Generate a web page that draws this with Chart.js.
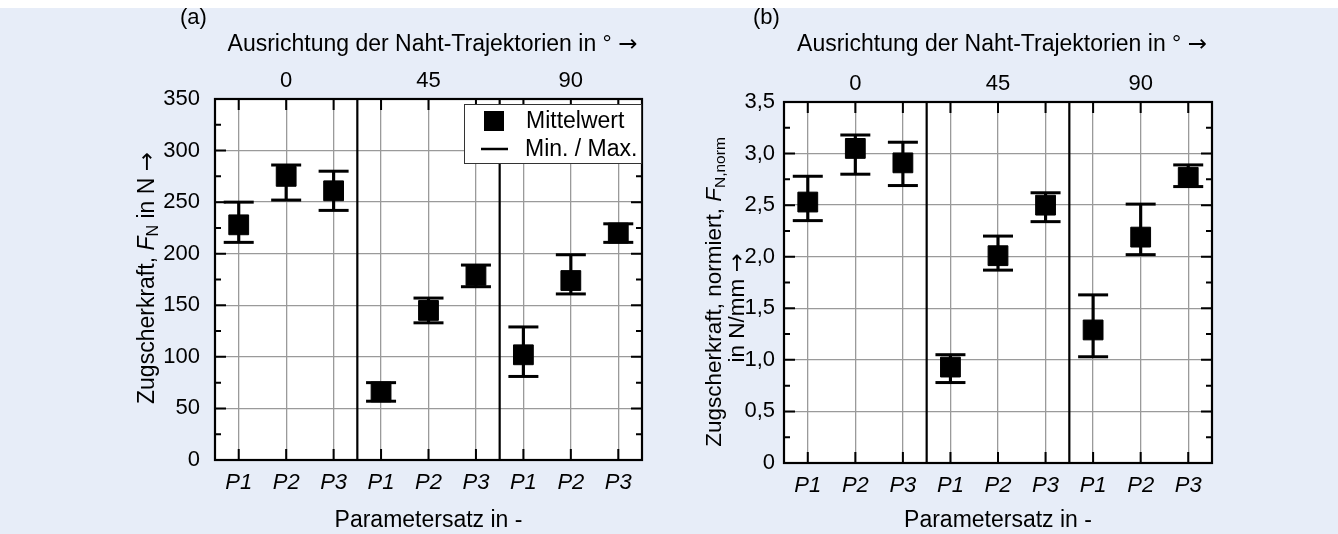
<!DOCTYPE html>
<html>
<head>
<meta charset="utf-8">
<script src="https://cdn.jsdelivr.net/npm/chart.js@4.4.0/dist/chart.umd.min.js"></script>
<style>
  body { margin: 0; background: #fff; }
  #wrap { position: absolute; left: 0; top: 8px; width: 1338px; height: 526px; background: #e7edf8; }
  canvas { position: absolute; top: 0; }
  #chartA { left: 0; }
  #chartB { left: 669px; }
</style>
</head>
<body>
<div id="wrap">
  <canvas id="chartA" width="669" height="526"></canvas>
  <canvas id="chartB" width="669" height="526"></canvas>
</div>
<script>
// Data
const categories = ['P1', 'P2', 'P3', 'P1', 'P2', 'P3', 'P1', 'P2', 'P3'];
const groupLabels = ['0', '45', '90'];
const legendLabels = ['Mittelwert', 'Min. / Max.'];

// (a) tensile shear force in N
const meanA = [228, 275, 261, 66, 145, 179, 102, 174, 220];
const minA = [211, 252, 242, 57, 133, 168, 81, 161, 211];
const maxA = [250, 286, 280, 75, 157, 189, 129, 199, 229];

// (b) normalised tensile shear force in N/mm
const meanB = [2.53, 3.05, 2.91, 0.93, 2.01, 2.50, 1.29, 2.19, 2.77];
const minB = [2.35, 2.80, 2.69, 0.78, 1.87, 2.34, 1.03, 2.02, 2.68];
const maxB = [2.78, 3.18, 3.11, 1.05, 2.20, 2.62, 1.63, 2.51, 2.89];

const FONT = '"Liberation Sans", Arial, sans-serif';
const ARROW_FONT = '"DejaVu Sans", sans-serif';
const FS = 22;      // tick labels
const FS_T = 23;    // titles, legend
const W = 669, H = 526;

// draws a line of text made of parts with different styles, centred on x
function drawRich(ctx, parts, x, y, size) {
    const fontOf = p => `${p.italic ? 'italic ' : ''}${p.size || size}px ${p.family || FONT}`;
    let total = 0;
    parts.forEach(p => {
        ctx.font = fontOf(p);
        p.w = ctx.measureText(p.t).width;
        total += p.w;
    });
    let cx = x - total / 2;
    parts.forEach(p => {
        ctx.font = fontOf(p);
        ctx.fillText(p.t, cx, y + (p.dy || 0));
        cx += p.w;
    });
}

function makeDecor(opt) {
    return {
        id: 'decor',
        beforeDraw(chart) {
            const { ctx, chartArea: a } = chart;
            ctx.save();
            ctx.fillStyle = '#fff';
            ctx.fillRect(a.left, a.top, a.right - a.left, a.bottom - a.top);
            ctx.restore();
        },
        afterDraw(chart) {
            const { ctx, chartArea: a } = chart;
            const xs = chart.scales.x, ys = chart.scales.y;
            ctx.save();
            ctx.strokeStyle = '#000';
            ctx.fillStyle = '#000';

            // inward ticks on left / right
            ctx.lineWidth = 2;
            const n = Math.round(opt.yMax / opt.minor);
            for (let i = 0; i <= n; i++) {
                const y = ys.getPixelForValue(i * opt.minor);
                const len = i % 2 === 0 ? 11 : 6;
                ctx.beginPath();
                ctx.moveTo(a.left, y); ctx.lineTo(a.left + len, y);
                ctx.moveTo(a.right, y); ctx.lineTo(a.right - len, y);
                ctx.stroke();
            }
            // inward ticks on top / bottom
            categories.forEach((c, i) => {
                const x = xs.getPixelForValue(i);
                ctx.beginPath();
                ctx.moveTo(x, a.top); ctx.lineTo(x, a.top + 11);
                ctx.moveTo(x, a.bottom); ctx.lineTo(x, a.bottom - 11);
                ctx.stroke();
            });
            // group separators
            ctx.lineWidth = 2.2;
            [2, 5].forEach(i => {
                const x = (xs.getPixelForValue(i) + xs.getPixelForValue(i + 1)) / 2;
                ctx.beginPath();
                ctx.moveTo(x, a.top); ctx.lineTo(x, a.bottom);
                ctx.stroke();
            });
            ctx.strokeRect(a.left, a.top, a.right - a.left, a.bottom - a.top);

            // legend
            if (opt.legend) {
                const w = 178, h = 60, x0 = a.right - w, y0 = a.top + 5;
                ctx.fillStyle = '#fff';
                ctx.fillRect(x0, y0, w, h);
                ctx.lineWidth = 1;
                ctx.strokeStyle = '#333';
                ctx.strokeRect(x0 + 0.5, y0 + 0.5, w - 1, h - 1);
                ctx.fillStyle = '#000';
                ctx.strokeStyle = '#000';
                ctx.fillRect(x0 + 20, y0 + 7, 20, 20);
                ctx.lineWidth = 2.5;
                ctx.beginPath();
                ctx.moveTo(x0 + 17, y0 + 45); ctx.lineTo(x0 + 44, y0 + 45);
                ctx.stroke();
                ctx.font = `${FS_T}px ${FONT}`;
                ctx.textBaseline = 'middle';
                ctx.textAlign = 'left';
                ctx.fillText(legendLabels[0], x0 + 62, y0 + 18);
                ctx.fillText(legendLabels[1], x0 + 61, y0 + 46);
            }

            ctx.fillStyle = '#000';
            ctx.textBaseline = 'middle';
            ctx.textAlign = 'left';

            // panel tag
            ctx.font = `${FS}px ${FONT}`;
            ctx.fillText(opt.tag, opt.tagX, opt.tagY);

            // top title
            drawRich(ctx, [
                { t: 'Ausrichtung der Naht-Trajektorien in ° ' },
                { t: '→', family: ARROW_FONT }
            ], (a.left + a.right) / 2 + 4, 37, FS_T);

            // rotated y title
            opt.yTitle.forEach(line => {
                ctx.save();
                ctx.translate(line.x, line.y);
                ctx.rotate(-Math.PI / 2);
                drawRich(ctx, line.parts, 0, 0, opt.yTitleSize);
                ctx.restore();
            });
            ctx.restore();
        }
    };
}

function makeChart(id, opt) {
    const topLabels = categories.map((c, i) => (i % 3 === 1 ? groupLabels[(i - 1) / 3] : ''));
    const tickFont = { family: FONT, size: FS };
    return new Chart(document.getElementById(id), {
        type: 'line',
        data: {
            labels: categories,
            datasets: [
                {
                    type: 'bar',
                    label: legendLabels[1],
                    data: opt.min.map((v, i) => [v, opt.max[i]]),
                    backgroundColor: '#000',
                    barThickness: 2.5,
                    order: 3
                },
                {
                    label: legendLabels[1],
                    data: opt.max,
                    showLine: false,
                    pointStyle: 'line',
                    pointRadius: 15,
                    pointBorderWidth: 3,
                    pointBorderColor: '#000',
                    order: 2
                },
                {
                    label: legendLabels[1],
                    data: opt.min,
                    showLine: false,
                    pointStyle: 'line',
                    pointRadius: 15,
                    pointBorderWidth: 3,
                    pointBorderColor: '#000',
                    order: 2
                },
                {
                    label: legendLabels[0],
                    data: opt.mean,
                    showLine: false,
                    pointStyle: 'rect',
                    pointRadius: 14,
                    pointBackgroundColor: '#000',
                    pointBorderColor: '#000',
                    pointBorderWidth: 1,
                    order: 1
                }
            ]
        },
        options: {
            responsive: false,
            animation: false,
            events: [],
            layout: { padding: { left: 0, right: W - opt.area.right, top: 0, bottom: 0 } },
            plugins: { legend: { display: false }, tooltip: { enabled: false } },
            scales: {
                x: {
                    type: 'category',
                    position: 'bottom',
                    offset: true,
                    grid: { offset: false, color: '#9a9a9a', lineWidth: 1.3, drawTicks: false },
                    border: { display: false },
                    ticks: { color: '#000', font: { ...tickFont, style: 'italic' }, padding: 10, autoSkip: false, maxRotation: 0 },
                    title: { display: true, text: 'Parametersatz in -', color: '#000', font: { family: FONT, size: FS_T }, padding: { top: 0, bottom: 0 } },
                    afterFit: s => { s.height = H - opt.area.bottom; }
                },
                xTop: {
                    type: 'category',
                    position: 'top',
                    labels: topLabels,
                    offset: true,
                    grid: { display: false, drawTicks: false },
                    border: { display: false },
                    ticks: { color: '#000', font: tickFont, padding: 5, autoSkip: false, maxRotation: 0 },
                    afterFit: s => { s.height = opt.area.top; }
                },
                y: {
                    min: 0,
                    max: opt.yMax,
                    grid: { color: '#9a9a9a', lineWidth: 1.3, drawTicks: false },
                    border: { display: false },
                    ticks: { stepSize: opt.step, color: '#000', font: tickFont, padding: opt.labelPad, callback: opt.fmt },
                    afterFit: s => { s.width = opt.area.left; }
                }
            }
        },
        plugins: [makeDecor(opt)]
    });
}

makeChart('chartA', {
    mean: meanA, min: minA, max: maxA,
    yMax: 350, step: 50, minor: 25,
    fmt: v => String(v),
    labelPad: 15,
    area: { left: 215, right: 642, top: 91, bottom: 452 },
    legend: true,
    tag: '(a)', tagX: 180, tagY: 10,
    yTitleSize: 23,
    yTitle: [
        { x: 148, y: 270, parts: [{ t: 'Zugscherkraft, ' }, { t: 'F', italic: true }, { t: 'N', size: 16, dy: 6 }, { t: ' in N ' }, { t: '→', family: ARROW_FONT }] }
    ]
});

makeChart('chartB', {
    mean: meanB, min: minB, max: maxB,
    yMax: 3.5, step: 0.5, minor: 0.25,
    fmt: v => (v === 0 ? '0' : v.toFixed(1).replace('.', ',')),
    labelPad: 9,
    area: { left: 115, right: 543, top: 94, bottom: 455 },
    legend: false,
    tag: '(b)', tagX: 84, tagY: 10,
    yTitleSize: 22.5,
    yTitle: [
        { x: 46, y: 284, parts: [{ t: 'Zugscherkraft, normiert, ' }, { t: 'F', italic: true }, { t: 'N,norm', size: 15.5, dy: 6 }] },
        { x: 69, y: 300, parts: [{ t: 'in N/mm ' }, { t: '→', family: ARROW_FONT }] }
    ]
});
</script>
</body>
</html>
